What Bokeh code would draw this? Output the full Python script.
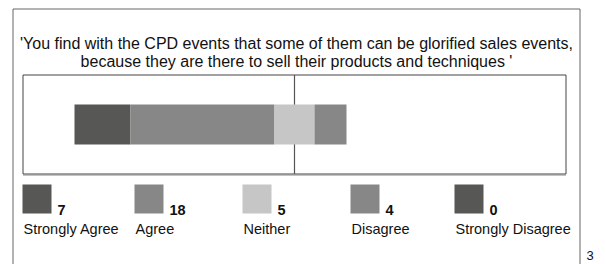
from bokeh.plotting import figure
from bokeh.models import Range1d
from bokeh.embed import file_html
from bokeh.resources import INLINE
from bokeh.core.properties import value

# ---- data ----
categories = ["Strongly Agree", "Agree", "Neither", "Disagree", "Strongly Disagree"]
counts = [7, 18, 5, 4, 0]
colors = ["#575755", "#878787", "#c6c6c6", "#878787", "#575755"]
title_lines = [
    "'You find with the CPD events that some of them can be glorified sales events,",
    "because they are there to sell their products and techniques '",
]
page_number = "3"

# ---- layout constants (pixels) ----
W, H = 606, 264
PX_PER_UNIT = 8.0
CENTER_PX = 294
FONT = value("Liberation Sans")
legend_left = [22, 134, 242, 350, 454]

# diverging stack: neutral category centred on zero
start = -(counts[0] + counts[1] + counts[2] / 2.0)
lefts, rights = [], []
acc = start
for c in counts:
    lefts.append(acc)
    acc += c
    rights.append(acc)

p = figure(width=W, height=H,
           x_range=Range1d(-CENTER_PX / PX_PER_UNIT, (W - CENTER_PX) / PX_PER_UNIT),
           y_range=Range1d(H, 0),
           x_axis_type=None, y_axis_type=None,
           output_backend="svg", toolbar_location=None,
           min_border=0, outline_line_color=None,
           background_fill_color="white", border_fill_color="white")
p.grid.visible = False
p.extra_x_ranges = {"px": Range1d(0, W)}

# outer frame (open at the bottom)
p.multi_line(xs=[[12.5, 12.5], [12.5, 579.5], [579.5, 579.5]],
             ys=[[H, 8.5], [8.5, 8.5], [8.5, H]],
             line_color="#666666", line_width=1, x_range_name="px")

# title
for i, t in enumerate(title_lines):
    p.text(x=[296], y=[43 + 18 * i], text=[t], x_range_name="px",
           text_font=FONT, text_font_size="16px", text_align="center",
           text_baseline="alphabetic", text_color="#111111")

# inner box
p.quad(left=[22.5], right=[565.5], top=[74.5], bottom=[173.5],
       fill_color=None, line_color="#444444", line_width=1, x_range_name="px")
p.segment(x0=[22.5], x1=[565.5], y0=[174.5], y1=[174.5],
          line_color="#888888", line_width=1, x_range_name="px")

# centre line at zero
p.segment(x0=[0], x1=[0], y0=[74.5], y1=[173.5], line_color="#555555", line_width=1.2)

# bars
p.hbar(y=[124] * len(counts), height=40, left=lefts, right=rights,
       fill_color=colors, line_color=None)

# legend
for i in range(len(categories)):
    lx = legend_left[i]
    p.rect(x=[lx + 14.5], y=[198.5], width=29, height=29,
           fill_color=colors[i], line_color=None, x_range_name="px")
    p.text(x=[lx + 35], y=[209], text=[str(counts[i])], x_range_name="px",
           text_font=FONT, text_font_size="14.5px", text_font_style="bold",
           text_baseline="alphabetic", text_color="#111111")
    p.text(x=[lx + 1], y=[228], text=[categories[i]], x_range_name="px",
           text_font=FONT, text_font_size="14.5px",
           text_baseline="alphabetic", text_color="#111111")

# page number at the bottom-right corner
p.text(x=[586], y=[255], text=[page_number], x_range_name="px",
       text_font=FONT, text_font_size="13px",
       text_baseline="alphabetic", text_color="#111111")

open("out.html", "w").write(file_html(p, INLINE))
